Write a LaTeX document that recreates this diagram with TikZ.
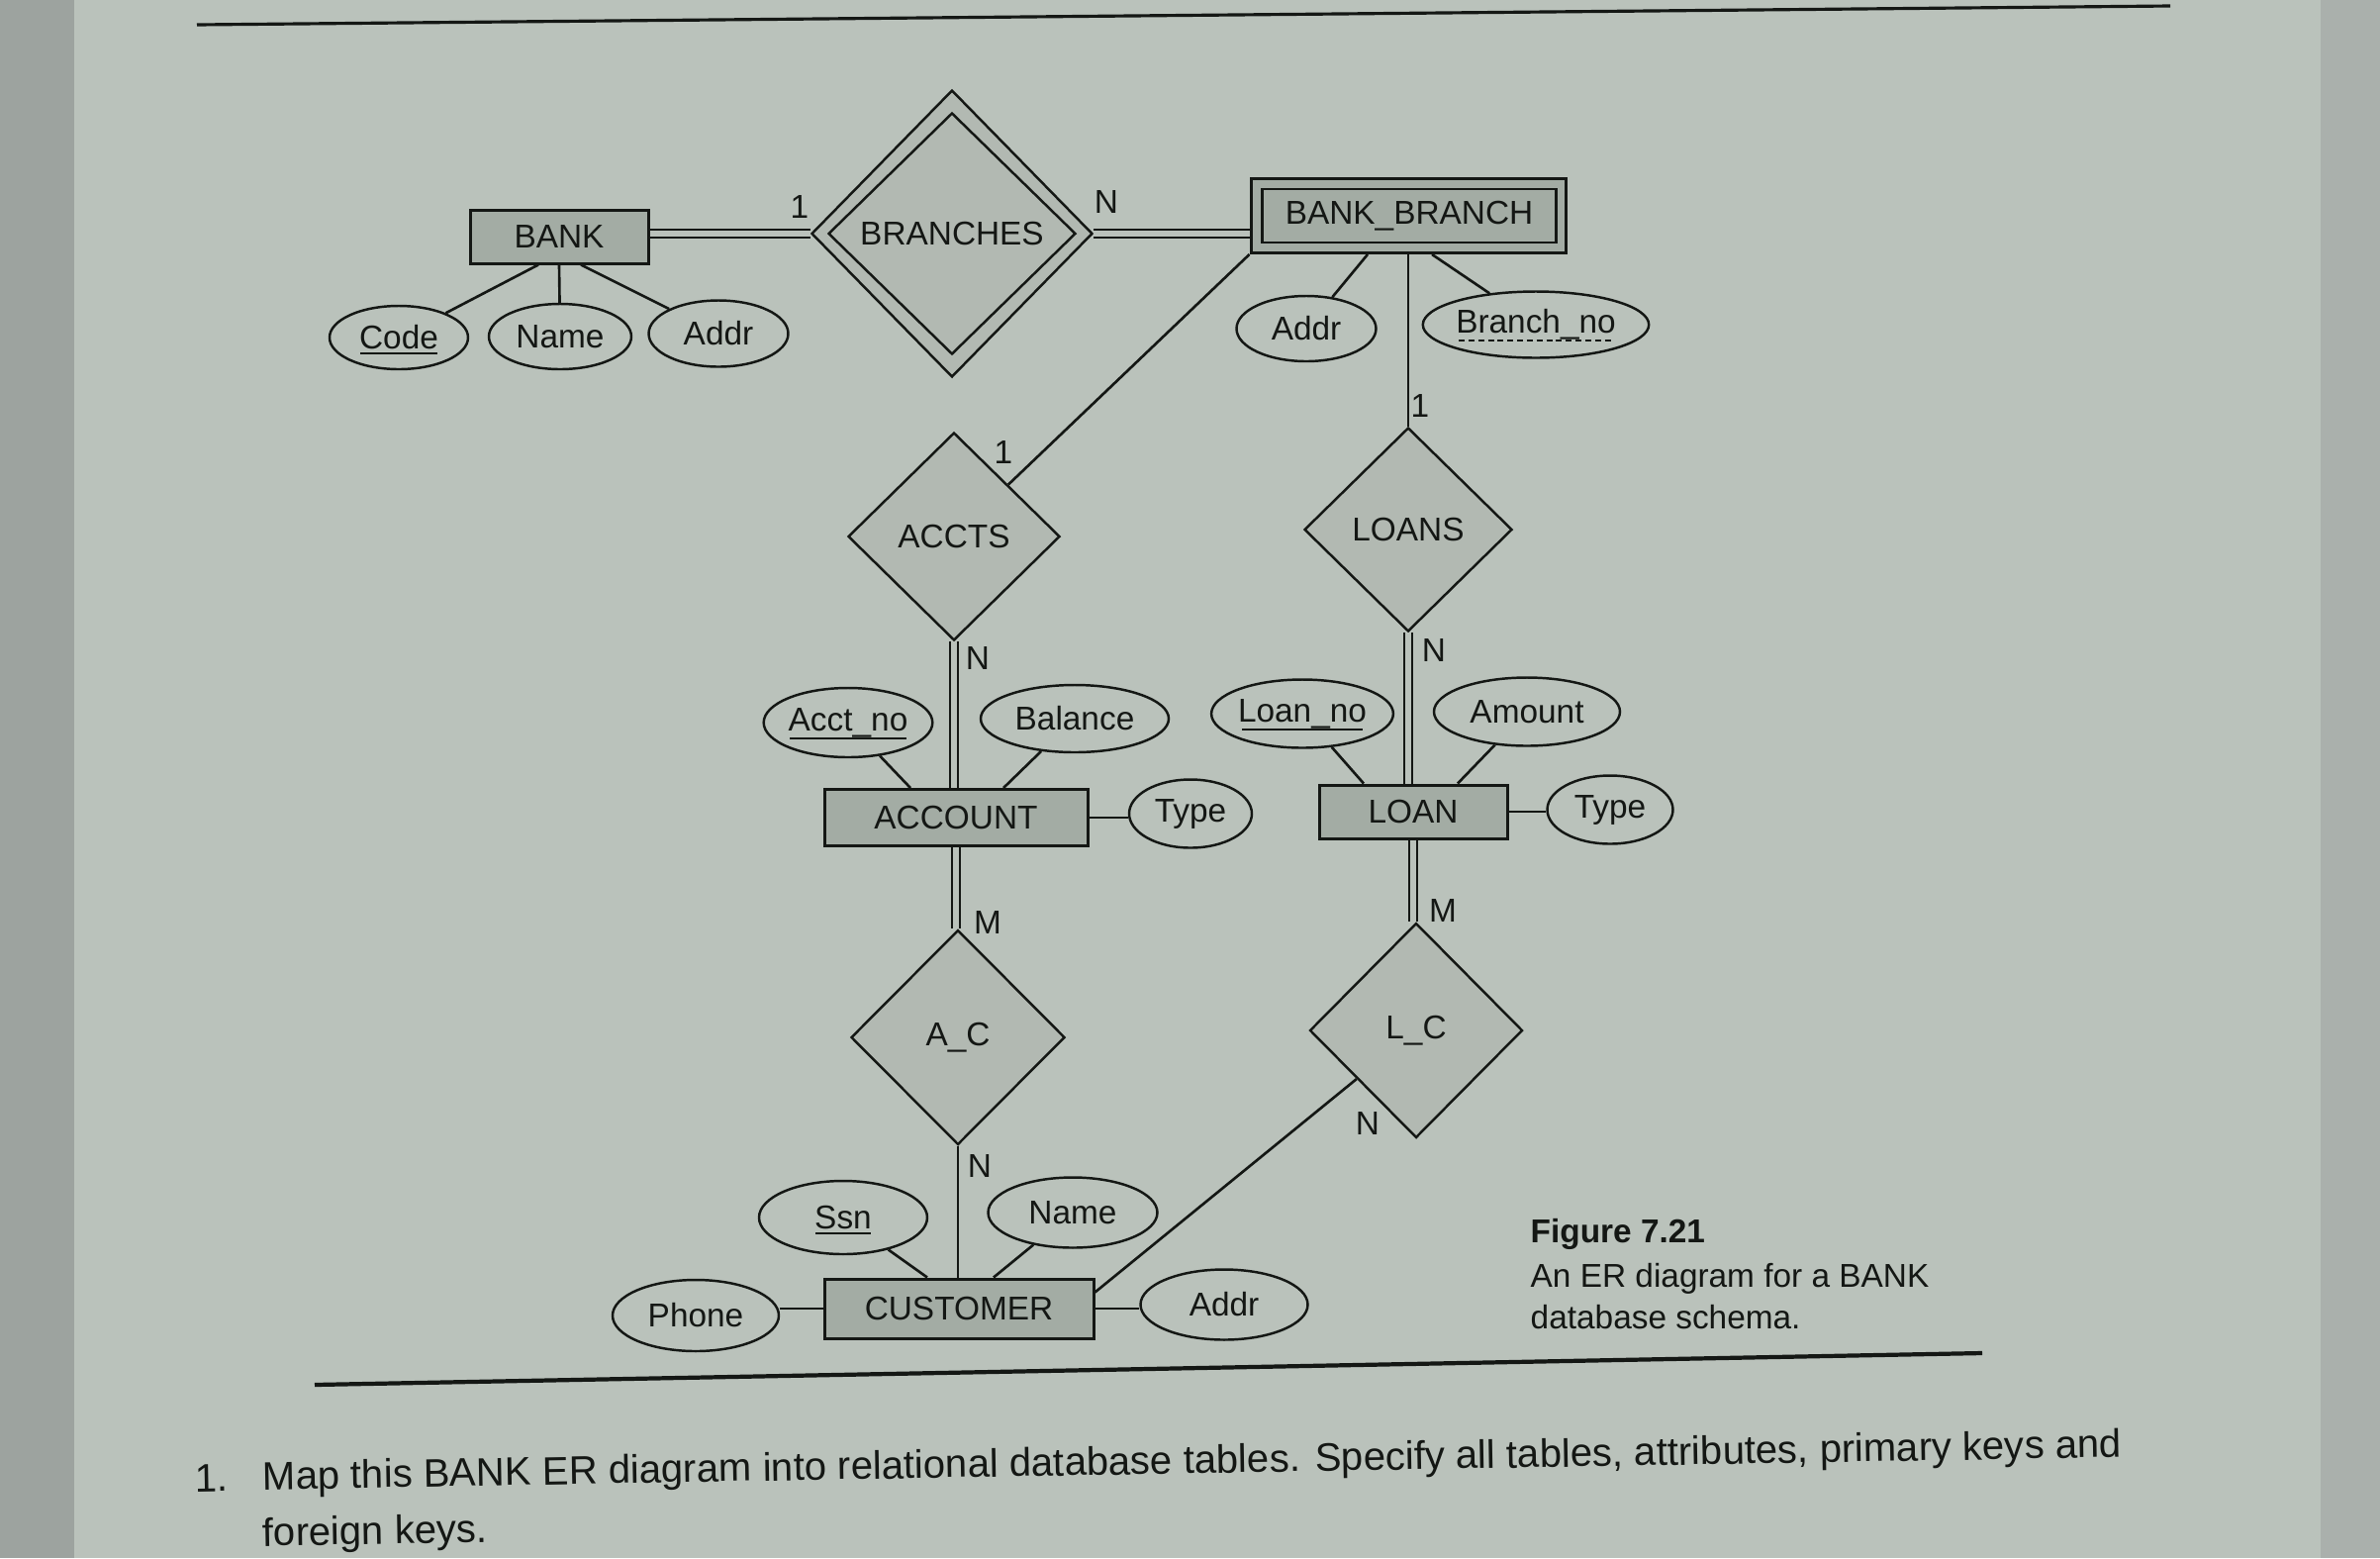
\documentclass[tikz,border=0pt]{standalone}
\usepackage{fontspec}
\setmainfont{Liberation Sans}
\usetikzlibrary{shapes.geometric,calc}
\definecolor{bg}{HTML}{BAC2BB}
\definecolor{bgl}{HTML}{9DA39F}
\definecolor{bgr}{HTML}{AAB0AC}
\definecolor{ent}{HTML}{A3ACA4}
\definecolor{rel}{HTML}{B2B9B2}
\definecolor{ink}{HTML}{141714}
\begin{document}
\begin{tikzpicture}[x=0.1mm,y=-0.1mm,
  font=\fontsize{9.5pt}{11pt}\selectfont, text=ink,
  entity/.style={draw=ink,fill=ent,rectangle,inner sep=0pt,line width=0.85pt},
  attr/.style={draw=ink,ellipse,inner sep=0pt,line width=0.7pt},
  relb/.style={draw=ink,fill=rel,diamond,inner sep=0pt,line width=0.7pt},
  card/.style={inner sep=0pt},
  link/.style={draw=ink,line width=0.75pt},
  dbl/.style={draw=ink,double=bg,double distance=1.5pt,line width=0.7pt},
  uline/.style={draw=ink,line width=0.8pt},
  rule/.style={draw=ink,line width=1.2pt}]
\useasboundingbox (0,0) rectangle (2405,1574);
\fill[bg] (0,0) rectangle (2405,1574);
\fill[bgl] (0,0) rectangle (75,1574);
\fill[bgr] (2345,0) rectangle (2405,1574);

% rules
\draw[rule,line width=0.9pt] (199,25) -- (2193,6);
\draw[rule] (318,1399) -- (2003,1367);

% BANK
\node[entity,minimum width=18mm,minimum height=5.4mm] (bank) at (565,239) {BANK};
\node[attr,minimum width=14mm,minimum height=6.4mm] (code) at (403,341) {Code};
\node[attr,minimum width=14.4mm,minimum height=6.6mm] (bname) at (566,340) {Name};
\node[attr,minimum width=14.1mm,minimum height=6.7mm] (baddr) at (726,337) {Addr};

% BRANCHES
\node[relb,minimum width=28.4mm,minimum height=29mm] (branches) at (962,236) {};
\node[draw=ink,diamond,inner sep=0pt,line width=0.7pt,minimum width=25mm,minimum height=24.4mm] (branchesin) at (962,236) {BRANCHES};

% BANK_BRANCH
\node[entity,minimum width=31.8mm,minimum height=7.5mm] (bb) at (1423,218) {};
\node[draw=ink,rectangle,inner sep=0pt,line width=0.8pt,minimum width=29.7mm,minimum height=5.4mm] (bbin) at (1424,218) {BANK\_BRANCH};
\node[attr,minimum width=14.1mm,minimum height=6.6mm] (bbaddr) at (1320,332) {Addr};
\node[attr,minimum width=22.8mm,minimum height=6.7mm] (bno) at (1552,328) {Branch\_no};

% ACCTS / LOANS
\node[relb,minimum width=21.4mm,minimum height=21mm] (accts) at (964,542) {ACCTS};
\node[relb,minimum width=21mm,minimum height=20.6mm] (loans) at (1423,535) {LOANS};

% ACCOUNT
\node[entity,minimum width=26.6mm,minimum height=5.7mm] (account) at (966,826) {ACCOUNT};
\node[attr,minimum width=16.8mm,minimum height=7mm] (acctno) at (857,730) {Acct\_no};
\node[attr,minimum width=19mm,minimum height=6.8mm] (balance) at (1086,726) {Balance};
\node[attr,minimum width=12.4mm,minimum height=6.9mm] (atype) at (1203,822) {Type};

% LOAN
\node[entity,minimum width=19mm,minimum height=5.4mm] (loan) at (1428,820) {LOAN};
\node[attr,minimum width=16.3mm,minimum height=6.9mm] (loanno) at (1316,721) {Loan\_no};
\node[attr,minimum width=18.8mm,minimum height=6.9mm] (amount) at (1543,719) {Amount};
\node[attr,minimum width=12.7mm,minimum height=6.9mm] (ltype) at (1627,818) {Type};

% A_C / L_C
\node[relb,minimum width=21.6mm,minimum height=21.7mm] (ac) at (968,1048) {A\_C};
\node[relb,minimum width=21.5mm,minimum height=21.7mm] (lc) at (1431,1041) {L\_C};

% CUSTOMER
\node[entity,minimum width=27.2mm,minimum height=6mm] (cust) at (969,1322) {CUSTOMER};
\node[attr,minimum width=17mm,minimum height=7.4mm] (ssn) at (852,1230) {Ssn};
\node[attr,minimum width=17.1mm,minimum height=7.1mm] (cname) at (1084,1225) {Name};
\node[attr,minimum width=16.8mm,minimum height=7.2mm] (phone) at (703,1329) {Phone};
\node[attr,minimum width=16.9mm,minimum height=7.1mm] (caddr) at (1237,1318) {Addr};

% key underlines
\draw[uline] ($(code.center)+(-39,16)$) -- ($(code.center)+(39,16)$);
\draw[uline] ($(acctno.center)+(-59,16)$) -- ($(acctno.center)+(59,16)$);
\draw[uline] ($(loanno.center)+(-61,16)$) -- ($(loanno.center)+(61,16)$);
\draw[uline] ($(ssn.center)+(-28,16)$) -- ($(ssn.center)+(28,16)$);
\draw[uline,dash pattern=on 1.7pt off 1.1pt] ($(bno.center)+(-78,16)$) -- ($(bno.center)+(78,16)$);

% connectors
\draw[dbl] (branches.west) -- (branches.west -| bank.east);
\draw[dbl] (branches.east) -- (branches.east -| bb.west);
\draw[link] ([xshift=-2.1mm]bank.south) -- (code);
\draw[link] (bank.south) -- (bname);
\draw[link] ([xshift=2.2mm]bank.south) -- (baddr);
\draw[link] ([xshift=-4.1mm]bb.south) -- (bbaddr);
\draw[link] ([xshift=2.4mm]bb.south) -- (bno);
\draw[link] (bb.south west) -- (accts);
\draw[link] (bb.south -| loans.north) -- (loans.north);
\draw[dbl] (accts.south) -- (accts.south |- account.north);
\draw[dbl] (loans.south) -- (loans.south |- loan.north);
\draw[link] (acctno) -- ([xshift=-4.6mm]account.north);
\draw[link] (balance) -- ([xshift=4.8mm]account.north);
\draw[link] (account.east) -- (account.east -| atype.west);
\draw[link] (loanno) -- ([xshift=-5mm]loan.north);
\draw[link] (amount) -- ([xshift=4.5mm]loan.north);
\draw[link] (loan.east) -- (loan.east -| ltype.west);
\draw[dbl] (account.south) -- (account.south |- ac.north);
\draw[dbl] (loan.south) -- (loan.south |- lc.north);
\draw[link] (ac.south) -- (ac.south |- cust.north);
\draw[link] ($(cust.north east)+(0,15)$) -- (lc);
\draw[link] (ssn) -- ([xshift=-3.2mm]cust.north);
\draw[link] (cname) -- ([xshift=3.5mm]cust.north);
\draw[link] (cust.west) -- (cust.west -| phone.east);
\draw[link] (cust.east) -- (cust.east -| caddr.west);

% cardinalities
\node[card] (c1) at (808,209) {1};
\node[card] (c2) at (1118,204) {N};
\node[card] (c3) at (1014,457) {1};
\node[card] (c4) at (1435,410) {1};
\node[card] (c5) at (988,665) {N};
\node[card] (c6) at (1449,657) {N};
\node[card] (c7) at (998,932) {M};
\node[card] (c8) at (1458,920) {M};
\node[card] (c9) at (990,1178) {N};
\node[card] (c10) at (1382,1135) {N};

% caption
\node[anchor=base west,inner sep=0pt,font=\fontsize{9.5pt}{11pt}\selectfont\bfseries] (figno) at (1546,1255) {Figure 7.21};
\node[anchor=base west,inner sep=0pt] (cap1) at (1546,1300) {An ER diagram for a BANK};
\node[anchor=base west,inner sep=0pt] (cap2) at (1546,1342) {database schema.};

% question
\node[anchor=base west,inner sep=0pt,rotate=1,font=\fontsize{11.4pt}{14pt}\selectfont] (qn) at (197,1507) {1.};
\node[anchor=base west,inner sep=0pt,rotate=1,font=\fontsize{11.4pt}{14pt}\selectfont] (q1) at (265,1505) {Map this BANK ER diagram into relational database tables. Specify all tables, attributes, primary keys and};
\node[anchor=base west,inner sep=0pt,rotate=1,font=\fontsize{11.4pt}{14pt}\selectfont] (q2) at (265,1562) {foreign keys.};
\end{tikzpicture}
\end{document}
